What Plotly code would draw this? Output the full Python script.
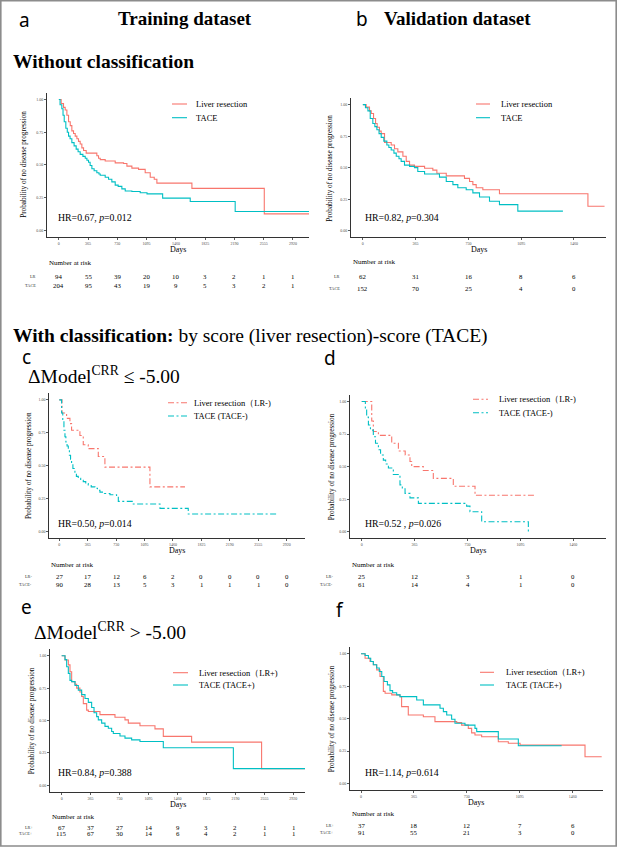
import plotly.graph_objects as go

# ---------------- data ----------------
train_ticks = [0, 365, 730, 1095, 1460, 1825, 2190, 2555, 2920]
valid_ticks = [0, 365, 730, 1095, 1460]
y_ticks = [0, 0.25, 0.5, 0.75, 1.0]
y_ticktext = ["0.00", "0.25", "0.50", "0.75", "1.00"]

# Panel a: training, without classification
a_lr_t = [0, 29, 58, 79, 100, 121, 142, 162, 183, 204, 225, 245, 266, 287, 308, 341, 474, 495, 516, 578, 703, 807, 849, 911, 994, 1077, 1140, 1190, 1223, 1660, 2563, 3200]
a_lr_s = [1.0, 0.97, 0.94, 0.92, 0.88, 0.83, 0.80, 0.76, 0.74, 0.72, 0.70, 0.68, 0.66, 0.63, 0.61, 0.59, 0.57, 0.55, 0.54, 0.53, 0.515, 0.51, 0.49, 0.475, 0.465, 0.44, 0.405, 0.39, 0.36, 0.32, 0.125, 0.125]
a_tace_t = [0, 15, 37, 52, 67, 87, 105, 121, 140, 162, 190, 216, 240, 266, 300, 329, 350, 370, 390, 412, 440, 474, 500, 516, 578, 620, 661, 703, 740, 786, 828, 911, 1015, 1100, 1295, 1639, 2200, 3200]
a_tace_s = [1.0, 0.96, 0.93, 0.88, 0.83, 0.78, 0.75, 0.72, 0.70, 0.67, 0.645, 0.62, 0.60, 0.58, 0.565, 0.55, 0.535, 0.52, 0.495, 0.47, 0.455, 0.44, 0.43, 0.42, 0.405, 0.39, 0.37, 0.345, 0.335, 0.316, 0.30, 0.296, 0.286, 0.278, 0.245, 0.22, 0.143, 0.143]
a_risk_lr = [94, 55, 39, 20, 10, 3, 2, 1, 1]
a_risk_tace = [204, 95, 43, 19, 9, 5, 3, 2, 1]

# Panel b: validation, without classification
b_lr_t = [0, 23, 46, 58, 74, 88, 99, 115, 127, 150, 196, 219, 242, 277, 300, 323, 357, 427, 484, 512, 577, 703, 738, 761, 784, 830, 945, 1557, 1672]
b_lr_s = [1.0, 0.98, 0.95, 0.93, 0.89, 0.85, 0.82, 0.79, 0.77, 0.70, 0.68, 0.65, 0.625, 0.59, 0.55, 0.52, 0.51, 0.495, 0.48, 0.455, 0.435, 0.415, 0.39, 0.365, 0.34, 0.325, 0.293, 0.194, 0.194]
b_tace_t = [0, 18, 35, 51, 69, 83, 97, 112, 127, 145, 166, 180, 196, 215, 231, 250, 265, 288, 323, 357, 380, 427, 530, 577, 623, 657, 715, 761, 807, 876, 945, 1072, 1384]
b_tace_s = [1.0, 0.975, 0.95, 0.89, 0.85, 0.825, 0.80, 0.77, 0.74, 0.71, 0.68, 0.66, 0.64, 0.615, 0.59, 0.57, 0.55, 0.52, 0.51, 0.50, 0.47, 0.45, 0.425, 0.39, 0.365, 0.34, 0.325, 0.30, 0.267, 0.233, 0.207, 0.155, 0.155]
b_risk_lr = [62, 31, 16, 8, 6]
b_risk_tace = [152, 70, 25, 4, 0]

# Panel c: training, score difference <= -5.00
c_lr_t = [0, 35, 94, 137, 158, 265, 308, 372, 501, 586, 1164, 1614]
c_lr_s = [1.0, 0.90, 0.86, 0.82, 0.77, 0.73, 0.66, 0.63, 0.57, 0.49, 0.34, 0.34]
c_tace_t = [0, 30, 45, 60, 73, 85, 100, 116, 130, 145, 158, 175, 201, 220, 244, 275, 308, 340, 372, 410, 458, 490, 522, 580, 651, 736, 758, 950, 1293, 1656, 2812]
c_tace_s = [1.0, 0.90, 0.84, 0.77, 0.72, 0.68, 0.65, 0.62, 0.58, 0.55, 0.52, 0.48, 0.44, 0.42, 0.405, 0.39, 0.38, 0.365, 0.355, 0.34, 0.33, 0.315, 0.30, 0.29, 0.28, 0.265, 0.23, 0.21, 0.177, 0.134, 0.134]
c_risk_lr = [27, 17, 12, 6, 2, 0, 0, 0, 0]
c_risk_tace = [90, 28, 13, 5, 3, 1, 1, 1, 0]

# Panel d: validation, score difference <= -5.00
d_lr_t = [0, 69, 80, 115, 207, 253, 300, 333, 345, 425, 494, 632, 782, 1195]
d_lr_s = [1.0, 0.85, 0.77, 0.74, 0.68, 0.62, 0.59, 0.54, 0.50, 0.47, 0.41, 0.35, 0.28, 0.28]
d_tace_t = [0, 25, 34, 46, 60, 80, 95, 115, 130, 149, 165, 184, 218, 264, 280, 299, 333, 391, 724, 747, 828, 1150]
d_tace_s = [1.0, 0.94, 0.88, 0.82, 0.78, 0.73, 0.68, 0.63, 0.59, 0.55, 0.52, 0.49, 0.44, 0.36, 0.33, 0.295, 0.26, 0.218, 0.197, 0.154, 0.077, 0.0]
d_risk_lr = [25, 12, 3, 1, 0]
d_risk_tace = [61, 14, 4, 1, 0]

# Panel e: training, score difference > -5.00
e_lr_t = [0, 42, 84, 105, 126, 168, 189, 230, 252, 273, 315, 336, 483, 672, 798, 840, 987, 1176, 1281, 1638, 2520, 3100]
e_lr_s = [1.0, 0.967, 0.93, 0.877, 0.80, 0.78, 0.75, 0.72, 0.685, 0.63, 0.58, 0.57, 0.545, 0.525, 0.505, 0.48, 0.46, 0.435, 0.377, 0.333, 0.128, 0.128]
e_tace_t = [0, 42, 63, 84, 105, 126, 168, 210, 252, 294, 336, 378, 408, 441, 462, 504, 546, 588, 630, 651, 735, 798, 882, 987, 1281, 2164, 3100]
e_tace_s = [1.0, 0.97, 0.915, 0.864, 0.81, 0.80, 0.77, 0.735, 0.70, 0.67, 0.64, 0.60, 0.56, 0.53, 0.505, 0.48, 0.455, 0.44, 0.415, 0.40, 0.38, 0.364, 0.35, 0.338, 0.29, 0.128, 0.128]
e_risk_lr = [67, 37, 27, 14, 9, 3, 2, 1, 1]
e_risk_tace = [115, 67, 30, 14, 6, 4, 2, 1, 1]

# Panel f: validation, score difference > -5.00
f_lr_t = [0, 28, 62, 85, 108, 131, 154, 166, 212, 269, 280, 326, 430, 510, 660, 694, 740, 763, 786, 832, 947, 1016, 1097, 1545, 1660]
f_lr_s = [1.0, 0.966, 0.94, 0.915, 0.876, 0.825, 0.71, 0.696, 0.683, 0.67, 0.593, 0.528, 0.515, 0.477, 0.469, 0.45, 0.425, 0.39, 0.374, 0.36, 0.322, 0.31, 0.296, 0.206, 0.206]
f_tace_t = [0, 28, 51, 67, 85, 108, 126, 143, 159, 182, 200, 218, 246, 269, 384, 430, 545, 568, 591, 625, 648, 717, 786, 798, 947, 1085, 1384]
f_tace_s = [1.0, 0.987, 0.966, 0.94, 0.915, 0.89, 0.863, 0.825, 0.786, 0.76, 0.716, 0.70, 0.683, 0.67, 0.644, 0.606, 0.58, 0.554, 0.528, 0.495, 0.464, 0.45, 0.425, 0.40, 0.343, 0.291, 0.291]
f_risk_lr = [37, 18, 12, 7, 6]
f_risk_tace = [91, 55, 21, 3, 0]

hr_texts = {
    "a": "HR=0.67, <i>p</i>=0.012",
    "b": "HR=0.82, <i>p</i>=0.304",
    "c": "HR=0.50, <i>p</i>=0.014",
    "d": "HR=0.52 , <i>p</i>=0.026",
    "e": "HR=0.84, <i>p</i>=0.388",
    "f": "HR=1.14, <i>p</i>=0.614",
}
legend_names = {
    "a": ("Liver resection", "TACE"),
    "b": ("Liver resection", "TACE"),
    "c": ("Liver resection（LR-)", "TACE (TACE-)"),
    "d": ("Liver resection（LR-)", "TACE (TACE-)"),
    "e": ("Liver resection（LR+)", "TACE (TACE+)"),
    "f": ("Liver resection（LR+)", "TACE (TACE+)"),
}
row_labels = {
    "a": ("LR", "TACE"), "b": ("LR", "TACE"),
    "c": ("LR-", "TACE-"), "d": ("LR-", "TACE-"),
    "e": ("LR+", "TACE+"), "f": ("LR+", "TACE+"),
}

# ---------------- layout (pixel geometry) ----------------
W, H = 617, 847
RED = "#F8766D"
TEAL = "#00BFC4"
SERIF = "Liberation Serif, Times New Roman, serif"
SANS = "Noto Sans, DejaVu Sans, sans-serif"
DASHDOT = "6px,2.5px,2px,2.5px"


def px(x):
    return x / W


def py(y):
    return 1 - y / H


panels = {
    "a": dict(n=1, x0=47, x1=309, y0=93, y1=236.7, xr=[-148, 3121], ticks=train_ticks,
              data=(a_lr_t, a_lr_s, a_tace_t, a_tace_s), risk=(a_risk_lr, a_risk_tace), dash="solid",
              leg=(172, 187, 194, 104, 117.7), hr=(56, 217.7), ytitle_x=24,
              risk_y=(262.7, 276, 285.5), rowlab_x=37.5),
    "b": dict(n=2, x0=351, x1=606, y0=98.3, y1=237, xr=[-82, 1682], ticks=valid_ticks,
              data=(b_lr_t, b_lr_s, b_tace_t, b_tace_s), risk=(b_risk_lr, b_risk_tace), dash="solid",
              leg=(476, 490, 499, 104, 117.7), hr=(363, 217.7), ytitle_x=330,
              risk_y=(262.3, 276, 289), rowlab_x=342),
    "c": dict(n=3, x0=49.3, x1=305, y0=393.3, y1=538.3, xr=[-128, 3155], ticks=train_ticks,
              data=(c_lr_t, c_lr_s, c_tace_t, c_tace_s), risk=(c_risk_lr, c_risk_tace), dash=DASHDOT,
              leg=(168, 187, 192, 402.7, 416), hr=(56, 523.3), ytitle_x=28.3,
              risk_y=(565, 576.7, 584), rowlab_x=33.5),
    "d": dict(n=4, x0=350, x1=606, y0=395, y1=538.3, xr=[-81, 1686], ticks=valid_ticks,
              data=(d_lr_t, d_lr_s, d_tace_t, d_tace_s), risk=(d_risk_lr, d_risk_tace), dash=DASHDOT,
              leg=(473, 488, 497, 399.3, 412.7), hr=(363, 523.3), ytitle_x=331.7,
              risk_y=(565, 576.7, 584), rowlab_x=335),
    "e": dict(n=5, x0=50, x1=305, y0=649.3, y1=791.7, xr=[-147, 3067], ticks=train_ticks,
              data=(e_lr_t, e_lr_s, e_tace_t, e_tace_s), risk=(e_risk_lr, e_risk_tace), dash="solid",
              leg=(173, 188, 197, 672.7, 685), hr=(56, 772), ytitle_x=31.7,
              risk_y=(816.7, 827, 833.7), rowlab_x=35),
    "f": dict(n=6, x0=350, x1=602.7, y0=647.3, y1=790, xr=[-76, 1667], ticks=valid_ticks,
              data=(f_lr_t, f_lr_s, f_tace_t, f_tace_s), risk=(f_risk_lr, f_risk_tace), dash="solid",
              leg=(480, 494, 504, 672.3, 685), hr=(363, 772), ytitle_x=331.7,
              risk_y=(814, 825.7, 832), rowlab_x=336),
}

fig = go.Figure()
annotations = []
shapes = []
layout_axes = {}

for key, p in panels.items():
    n = p["n"]
    xa = "x" if n == 1 else f"x{n}"
    ya = "y" if n == 1 else f"y{n}"
    lr_t, lr_s, tc_t, tc_s = p["data"]
    names = legend_names[key]
    fig.add_trace(go.Scatter(x=lr_t, y=lr_s, mode="lines", line=dict(color=RED, width=1.1, shape="hv", dash=p["dash"]),
                             name=names[0], xaxis=xa, yaxis=ya, showlegend=False, hoverinfo="skip"))
    fig.add_trace(go.Scatter(x=tc_t, y=tc_s, mode="lines", line=dict(color=TEAL, width=1.1, shape="hv", dash=p["dash"]),
                             name=names[1], xaxis=xa, yaxis=ya, showlegend=False, hoverinfo="skip"))

    axis_common = dict(showline=True, linecolor="#333333", linewidth=1, ticks="outside", ticklen=2,
                       tickwidth=0.8, tickcolor="#333333", showgrid=False, zeroline=False, automargin=False,
                       tickfont=dict(family=SERIF, size=4, color="#4d4d4d"), fixedrange=True)
    layout_axes["xaxis" if n == 1 else f"xaxis{n}"] = dict(
        domain=[px(p["x0"]), px(p["x1"])], range=p["xr"], anchor=ya,
        tickmode="array", tickvals=p["ticks"], ticktext=[str(t) for t in p["ticks"]], **axis_common)
    layout_axes["yaxis" if n == 1 else f"yaxis{n}"] = dict(
        domain=[py(p["y1"]), py(p["y0"])], range=[-0.05, 1.05], anchor=xa,
        tickmode="array", tickvals=y_ticks, ticktext=y_ticktext, **axis_common)

    # axis titles
    annotations.append(dict(text="Days", x=px((p["x0"] + p["x1"]) / 2), y=py(p["y1"] + 12.6),
                            xref="paper", yref="paper", showarrow=False, xanchor="center", yanchor="middle",
                            font=dict(family=SERIF, size=8, color="black")))
    annotations.append(dict(text="Probability of no disease progression", x=px(p["ytitle_x"]),
                            y=py((p["y0"] + p["y1"]) / 2), xref="paper", yref="paper", showarrow=False,
                            textangle=-90, xanchor="center", yanchor="middle",
                            font=dict(family=SERIF, size=7.2, color="black")))
    # HR text
    annotations.append(dict(text=hr_texts[key], x=px(p["hr"][0]), y=py(p["hr"][1]), xref="paper", yref="paper",
                            showarrow=False, xanchor="left", yanchor="middle",
                            font=dict(family=SERIF, size=9.8, color="black")))
    # legend
    lx0, lx1, tx, ly1, ly2 = p["leg"]
    for (ly, col, nm) in [(ly1, RED, names[0]), (ly2, TEAL, names[1])]:
        shapes.append(dict(type="line", xref="paper", yref="paper", x0=px(lx0), x1=px(lx1), y0=py(ly), y1=py(ly),
                           line=dict(color=col, width=1.1, dash=p["dash"])))
        annotations.append(dict(text=nm, x=px(tx), y=py(ly), xref="paper", yref="paper", showarrow=False,
                                xanchor="left", yanchor="middle", font=dict(family=SERIF, size=8.5, color="black")))
    # risk table
    ry0, ry1, ry2 = p["risk_y"]
    annotations.append(dict(text="Number at risk", x=px(p["x0"]), y=py(ry0), xref="paper", yref="paper",
                            showarrow=False, xanchor="left", yanchor="middle",
                            font=dict(family=SERIF, size=7, color="black")))
    for lab, vals, ry in [(row_labels[key][0], p["risk"][0], ry1), (row_labels[key][1], p["risk"][1], ry2)]:
        annotations.append(dict(text=lab, x=px(p["rowlab_x"]), y=py(ry), xref="paper", yref="paper",
                                showarrow=False, xanchor="right", yanchor="middle",
                                font=dict(family=SERIF, size=4.3, color="#333333")))
        for t, v in zip(p["ticks"], vals):
            annotations.append(dict(text=str(v), x=t, y=py(ry), xref=xa, yref="paper", showarrow=False,
                                    xanchor="center", yanchor="middle",
                                    font=dict(family=SERIF, size=6.8, color="black")))

# headings
def head(text, x, y, size, family, anchor="left"):
    annotations.append(dict(text=text, x=px(x), y=py(y), xref="paper", yref="paper", showarrow=False,
                            xanchor=anchor, yanchor="middle", font=dict(family=family, size=size, color="black")))

SUP = "<sup><span style='font-family:Liberation Serif'>CRR</span></sup>"
head("a", 17, 20, 19, SANS)
head("b", 354, 19, 19, SANS)
head("c", 20, 357, 19, SANS)
head("d", 322, 358, 19, SANS)
head("e", 19, 607, 19, SANS)
head("f", 334, 610, 19, SANS)
head("<b>Training dataset</b>", 185, 18.5, 19, SERIF, "center")
head("<b>Validation dataset</b>", 457.5, 18.5, 19, SERIF, "center")
head("<b>Without classification</b>", 11, 61.5, 19.5, SERIF)
head("<b>With classification:</b> by score (liver resection)-score (TACE)", 11, 336, 19.5, SERIF)
head("ΔModel" + SUP + " ≤ -5.00", 26, 375, 19.5, SERIF)
head("ΔModel" + SUP + " > -5.00", 32, 630.5, 19.5, SERIF)

# outer frame
shapes.append(dict(type="rect", xref="paper", yref="paper", x0=px(0.8), x1=px(616.2), y0=py(846), y1=py(0.8),
                   line=dict(color="#8c8c8c", width=1.6)))

fig.update_layout(width=W, height=H, autosize=False, margin=dict(l=0, r=0, t=0, b=0),
                  paper_bgcolor="white", plot_bgcolor="white", showlegend=False,
                  annotations=annotations, shapes=shapes, **layout_axes)

fig.write_html("out.html", config={"displayModeBar": False, "staticPlot": True},
               post_script="document.body.style.margin='0';document.documentElement.style.overflow='hidden';document.body.style.overflow='hidden';")
